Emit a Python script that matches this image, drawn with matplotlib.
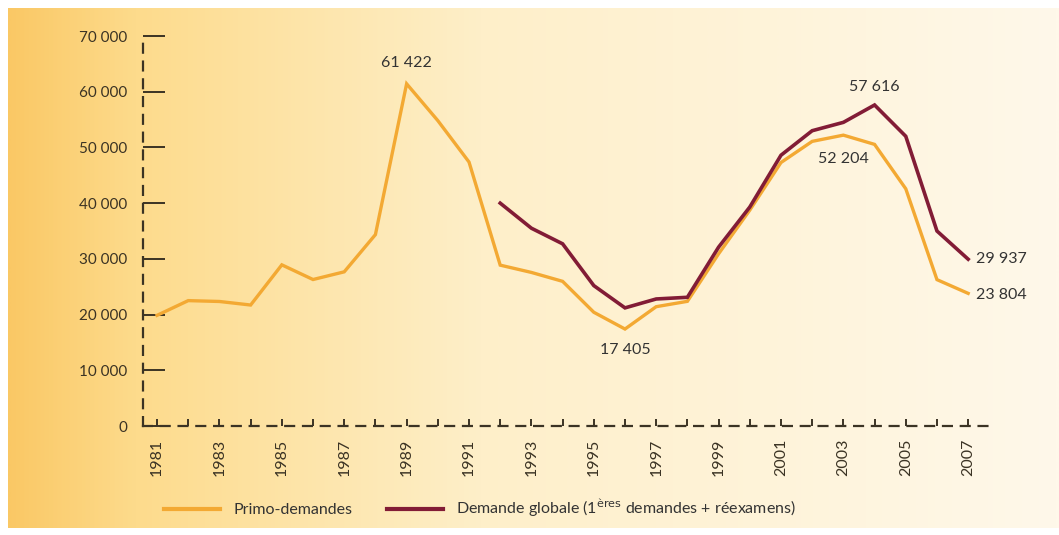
import numpy as np
import matplotlib.pyplot as plt
from matplotlib.colors import LinearSegmentedColormap
from matplotlib.lines import Line2D

plt.rcParams["font.family"] = ["Lato", "DejaVu Sans"]

years = list(range(1981, 2008))
primo = [19863, 22505, 22350, 21714, 28925, 26290, 27672, 34352, 61422, 54813,
         47380, 28872, 27564, 25964, 20415, 17405, 21416, 22375, 30907, 38747,
         47291, 51087, 52204, 50547, 42578, 26269, 23804]
global_years = list(range(1992, 2008))
global_dem = [40000, 35500, 32700, 25200, 21200, 22800, 23100, 32100, 39300,
              48600, 53000, 54500, 57616, 52000, 35000, 29937]

y_ticks = [0, 10000, 20000, 30000, 40000, 50000, 60000, 70000]
x_labels = list(range(1981, 2008, 2))

YELLOW = "#F3A933"
RED = "#821C36"
TXT = "#3b3324"


def fmt(v):
    return f"{v:,}".replace(",", " ")


fig = plt.figure(figsize=(10.59, 5.35), dpi=100)

# background: gradient panel with thin white border
bg = fig.add_axes([8 / 1059, 7 / 535, 1 - 8 / 1059, 1 - 15 / 535], zorder=0)
cmap = LinearSegmentedColormap.from_list(
    "bg", [(0, "#FAC865"), (0.12, "#FDDB8C"), (0.45, "#FEEFC9"), (1, "#FFF8EA")])
grad = np.linspace(0, 1, 512).reshape(1, -1)
bg.imshow(grad, aspect="auto", cmap=cmap, extent=[0, 1, 0, 1])
bg.set_axis_off()

ax = fig.add_axes([143 / 1059, 109 / 535, 847 / 1059, 390 / 535], zorder=1)
ax.patch.set_alpha(0)

ax.plot(years, primo, color=YELLOW, lw=2.4, solid_joinstyle="miter")
ax.plot(global_years, global_dem, color=RED, lw=2.6, solid_joinstyle="miter")

ax.set_xlim(1980.55, 2007.7)
ax.set_ylim(0, 70000)

for s in ["top", "right"]:
    ax.spines[s].set_visible(False)
for s in ["left", "bottom"]:
    ax.spines[s].set_linestyle((0, (4, 4)))
    ax.spines[s].set_linewidth(1.6)
    ax.spines[s].set_color(TXT)

ax.set_yticks(y_ticks)
ax.set_yticklabels([fmt(v) for v in y_ticks])
ax.tick_params(axis="y", direction="in", length=16, width=1.4, color=TXT,
               pad=11, labelsize=11, labelcolor=TXT)
ax.set_xticks(years, minor=True)
ax.set_xticks(x_labels)
ax.set_xticklabels([str(y) for y in x_labels], rotation=90)
ax.tick_params(axis="x", which="both", direction="in", length=5, width=1.4,
               color=TXT, pad=9, labelsize=11.5, labelcolor=TXT)

# value annotations
ann = dict(fontsize=11.5, color="#333333")
ax.annotate(fmt(61422), (1989, 61422), xytext=(0, 10), textcoords="offset points",
            ha="center", va="bottom", **ann)
ax.annotate(fmt(17405), (1996, 17405), xytext=(0, -10), textcoords="offset points",
            ha="center", va="top", **ann)
ax.annotate(fmt(52204), (2003, 52204), xytext=(0, -12), textcoords="offset points",
            ha="center", va="top", **ann)
ax.annotate(fmt(57616), (2004, 57616), xytext=(0, 8), textcoords="offset points",
            ha="center", va="bottom", **ann)
ax.annotate(fmt(29937), (2007, 29937), xytext=(6, 0), textcoords="offset points",
            ha="left", va="center", **ann)
ax.annotate(fmt(23804), (2007, 23804), xytext=(6, -1), textcoords="offset points",
            ha="left", va="center", **ann)

handles = [Line2D([], [], color=YELLOW, lw=3),
           Line2D([], [], color=RED, lw=3)]
labels = ["Primo-demandes",
          "Demande globale (1$^{\\mathrm{ères}}$ demandes + réexamens)"]
fig.legend(handles, labels, loc="center left", bbox_to_anchor=(150 / 1059, 1 - 508 / 535),
           ncol=2, frameon=False, fontsize=11.5, handlelength=3.5, handletextpad=0.8,
           columnspacing=2.2, labelcolor="#333333")

fig.savefig("out.png", dpi=100)
